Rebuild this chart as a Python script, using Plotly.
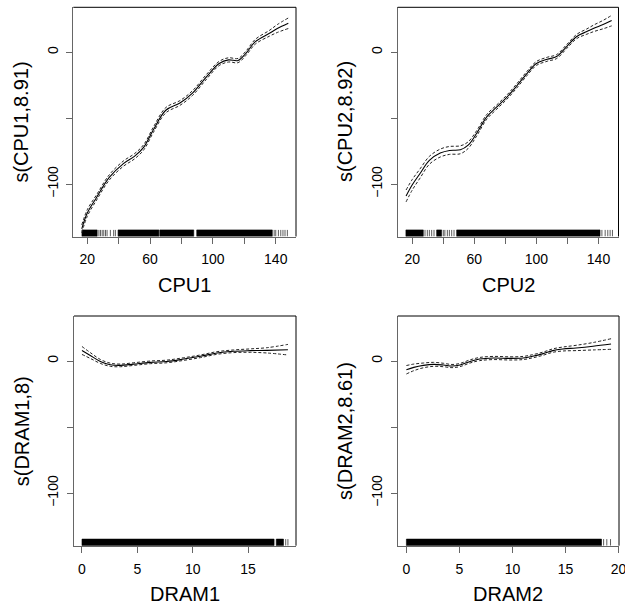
import plotly.graph_objects as go

# ---------------- data ----------------
cpu1_x = [16.5, 20, 26, 34, 43, 50, 56, 62, 70, 79, 87, 96, 104, 110, 116, 121, 127, 136, 141, 148]
cpu1_fit = [-134, -122, -110, -95, -84.5, -79, -72, -59, -44, -38.5, -31, -18.5, -8.5, -5.8, -6.3, -0.8, 8, 14.4, 18, 22]
cpu1_se = [3, 2.5, 2, 2, 2, 2, 2, 2, 2, 1.8, 1.8, 1.8, 1.6, 1.6, 1.6, 1.6, 1.8, 2.2, 3, 4]
cpu1_rug_dense = [(16.6, 26.3), (39.6, 65.6), (66.2, 87.8), (89.7, 137.8)]
cpu1_rug_sparse = [27.4, 28.4, 29.5, 30.5, 31.6, 32.6, 34.7, 36.8, 37.9, 139, 140, 141.7, 143.2, 144.6, 145.9, 147.4]

cpu2_x = [16, 20, 25, 31, 38, 44, 51, 56, 61.5, 68, 74.5, 81, 87, 94, 100, 107, 113, 119.5, 126, 132.5, 137, 143, 148.5]
cpu2_fit = [-109, -100.5, -92, -82, -76.5, -74.5, -74, -70.5, -61.5, -49, -41.5, -34, -26, -16, -8.5, -5.3, -3.3, 4.3, 12, 15.7, 18.2, 21, 24]
cpu2_se = [4.5, 4, 3.5, 3, 3, 3, 3, 2.5, 2, 1.8, 1.6, 1.6, 1.6, 1.6, 1.5, 1.5, 1.5, 1.5, 1.6, 2, 2.5, 3.2, 4]
cpu2_rug_dense = [(15.9, 27.1), (35.7, 38.9), (48.6, 141)]
cpu2_rug_sparse = [28.2, 29.7, 31, 32.5, 34, 40, 41, 42.6, 43.9, 45.4, 46.9, 142.2, 144.3, 146, 147.5, 149]

dram1_x = [0, 0.75, 1.66, 2.56, 3.46, 4.67, 6.17, 7.68, 9.19, 10.7, 12.2, 13.7, 15.2, 16.7, 18.6]
dram1_fit = [8, 4.2, -0.3, -2.8, -3.3, -2.3, -1, -0.3, 1.5, 3.6, 6.1, 7.4, 7.9, 8.1, 8.6]
dram1_se = [3, 2.2, 1.5, 1.2, 1, 1, 1, 1, 1, 1, 1, 1, 1.3, 2, 4]
dram1_rug_dense = [(0, 17.35), (17.55, 18.2)]
dram1_rug_sparse = [18.4, 18.6]

dram2_x = [0, 0.7, 1.6, 2.56, 3.5, 4.3, 5.06, 6, 6.9, 8.2, 9.75, 11, 11.9, 12.9, 13.8, 14.75, 16, 17.6, 19.3]
dram2_fit = [-6.6, -4.8, -3.3, -2.5, -3, -3.8, -3, -0.3, 1.5, 2.3, 2, 2.3, 3.6, 5.6, 7.9, 9.1, 9.9, 11.2, 12.9]
dram2_se = [3.2, 2.5, 1.8, 1.5, 1.3, 1.2, 1.2, 1.2, 1.2, 1.2, 1.2, 1.2, 1.2, 1.2, 1.3, 1.5, 2, 2.8, 4]
dram2_rug_dense = [(0, 18.4)]
dram2_rug_sparse = [18.6, 18.9, 19.25]

x_titles = ["CPU1", "CPU2", "DRAM1", "DRAM2"]
y_titles = ["s(CPU1,8.91)", "s(CPU2,8.92)", "s(DRAM1,8)", "s(DRAM2,8.61)"]
cpu_ticks = [20, 40, 60, 80, 100, 120, 140]
cpu_ticktext = ["20", "", "60", "", "100", "", "140"]
dram_ticks = [0, 5, 10, 15, 20]
dram_ticktext = ["0", "5", "10", "15", "20"]
y_ticks = [-100, -50, 0]
y_ticktext = ["\u2212100", "", "0"]

# ---------------- layout geometry ----------------
W, H = 625, 609
boxes = [  # left, right, top, bottom in pixels
    (73.3, 296.0, 7.3, 236.5),
    (397.7, 618.5, 7.3, 236.5),
    (74.0, 296.0, 316.0, 545.7),
    (397.7, 619.0, 316.0, 545.7),
]
x_ranges = [[11.1, 152.9], [10.6, 152.9], [-0.72, 19.33], [-0.82, 20.05]]
y_range = [-139.8, 34.1]
rug_h = 5.0

panels = [
    (cpu1_x, cpu1_fit, cpu1_se, cpu1_rug_dense, cpu1_rug_sparse, cpu_ticks, cpu_ticktext),
    (cpu2_x, cpu2_fit, cpu2_se, cpu2_rug_dense, cpu2_rug_sparse, cpu_ticks, cpu_ticktext),
    (dram1_x, dram1_fit, dram1_se, dram1_rug_dense, dram1_rug_sparse, dram_ticks, dram_ticktext),
    (dram2_x, dram2_fit, dram2_se, dram2_rug_dense, dram2_rug_sparse, dram_ticks, dram_ticktext),
]

FONT = "Liberation Sans, Arial, Helvetica, sans-serif"
fig = go.Figure()
layout = dict(
    width=W, height=H, margin=dict(l=0, r=0, t=0, b=0, autoexpand=False),
    paper_bgcolor="white", plot_bgcolor="white", showlegend=False,
    font=dict(family=FONT, color="black"),
)
annotations = []
shapes = []

for i, (xs, fit, se, rdense, rsparse, tv, tt) in enumerate(panels):
    n = "" if i == 0 else str(i + 1)
    xa, ya = "x" + n, "y" + n
    L, R, T, B = boxes[i]
    ymin = y_range[0]
    # rug: dense spans
    px, py = [], []
    for a, b in rdense:
        px += [a, b, b, a, a, None]
        py += [ymin, ymin, ymin + rug_h, ymin + rug_h, ymin, None]
    fig.add_trace(go.Scatter(x=px, y=py, xaxis=xa, yaxis=ya, mode="lines",
                             fill="toself", fillcolor="black",
                             line=dict(color="black", width=0.6), hoverinfo="skip"))
    sx, sy = [], []
    for v in rsparse:
        sx += [v, v, None]
        sy += [ymin, ymin + rug_h, None]
    fig.add_trace(go.Scatter(x=sx, y=sy, xaxis=xa, yaxis=ya, mode="lines",
                             line=dict(color="#333333", width=0.8), hoverinfo="skip"))
    # SE bands
    up = [f + s for f, s in zip(fit, se)]
    lo = [f - s for f, s in zip(fit, se)]
    for band in (up, lo):
        fig.add_trace(go.Scatter(x=xs, y=band, xaxis=xa, yaxis=ya, mode="lines",
                                 line=dict(color="#222222", width=1, dash="3px,2px", shape="spline"),
                                 hoverinfo="skip"))
    fig.add_trace(go.Scatter(x=xs, y=fit, xaxis=xa, yaxis=ya, mode="lines",
                             line=dict(color="black", width=1.1, shape="spline"), hoverinfo="skip"))

    common = dict(showgrid=False, zeroline=False, showline=True, linecolor="#666666", linewidth=1,
                  ticks="outside", ticklen=6, tickcolor="#666666", tickwidth=1, automargin=False,
                  ticklabeloverflow="allow",
                  tickfont=dict(size=14, family=FONT, color="black"), mirror=False)
    layout["xaxis" + n] = dict(domain=[L / W, R / W], range=x_ranges[i], anchor=ya,
                               tickmode="array", tickvals=tv, ticktext=tt,
                               ticklabelstandoff=4, **common)
    layout["yaxis" + n] = dict(domain=[1 - B / H, 1 - T / H], range=y_range, anchor=xa,
                               tickmode="array", tickvals=y_ticks, ticktext=y_ticktext,
                               tickangle=-90, ticklabelstandoff=3, **common)
    # top and right border lines (black)
    shapes.append(dict(type="line", xref="paper", yref="paper", x0=L / W, x1=R / W,
                       y0=1 - T / H, y1=1 - T / H, line=dict(color="black", width=1)))
    shapes.append(dict(type="line", xref="paper", yref="paper", x0=R / W, x1=R / W,
                       y0=1 - T / H, y1=1 - B / H, line=dict(color="black", width=1)))
    # axis titles
    annotations.append(dict(text=x_titles[i], xref="paper", yref="paper",
                            x=(L + R) / 2 / W, y=1 - (B + 48) / H, showarrow=False,
                            xanchor="center", yanchor="middle",
                            font=dict(size=20, family=FONT, color="black")))
    annotations.append(dict(text=y_titles[i], xref="paper", yref="paper",
                            x=(L - 52.6) / W, y=1 - (T + B) / 2 / H, showarrow=False,
                            xanchor="center", yanchor="middle", textangle=-90,
                            font=dict(size=20, family=FONT, color="black")))

layout["annotations"] = annotations
layout["shapes"] = shapes
fig.update_layout(**layout)
fig.write_html("out.html", config={"displayModeBar": False, "staticPlot": True},
               post_script="document.body.style.margin='0px';document.body.style.overflow='hidden';")
